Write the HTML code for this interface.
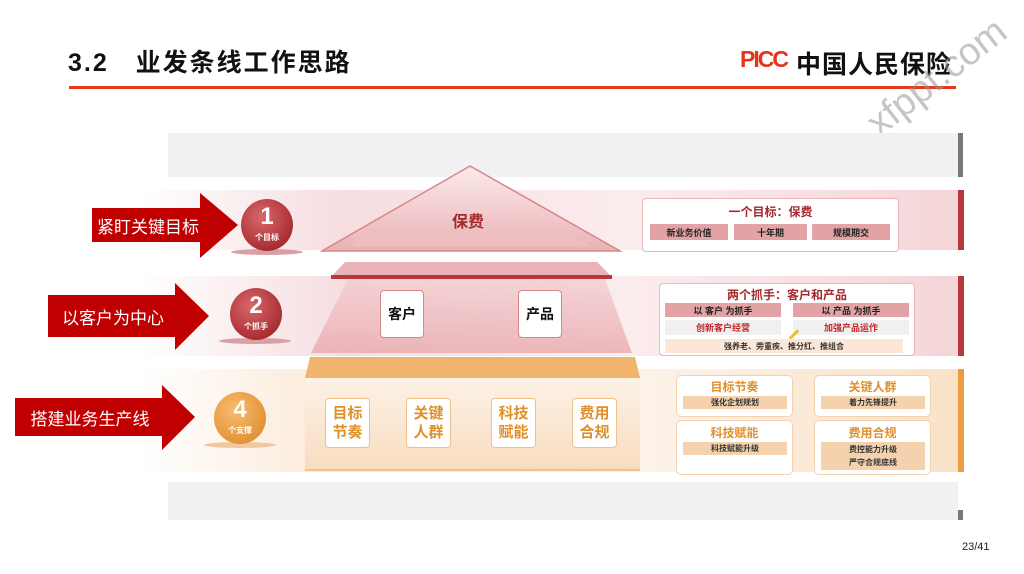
<!DOCTYPE html>
<html><head><meta charset="utf-8"><style>
*{margin:0;padding:0;box-sizing:border-box}
body{width:1024px;height:574px;background:#fff;position:relative;overflow:hidden;font-family:"Liberation Sans","Noto Sans CJK SC",sans-serif}
.a{position:absolute}
.c{display:flex;align-items:center;justify-content:center;text-align:center}
.t{font-weight:bold}
</style></head><body>
<div class="a t" style="left:68px;top:43px;font-size:25px;color:#111;letter-spacing:2px">3.2&nbsp;&nbsp;&nbsp;业发条线工作思路</div>
<div class="a" style="left:69px;top:86px;width:887px;height:3px;background:#e23a1a"></div>
<div class="a t" style="left:740px;top:46px;font-size:23px;color:#e2361c;letter-spacing:-2px;font-weight:900">PICC</div>
<div class="a t" style="left:796px;top:45px;font-size:25px;color:#111;letter-spacing:1px">中国人民保险</div>
<div class="a" style="left:872px;top:108px;font-size:38px;color:rgba(150,150,150,.55);transform:rotate(-38deg);transform-origin:left center;line-height:40px">xfppt.com</div>

<!-- bands -->
<div class="a" style="left:168px;top:133px;width:790px;height:44px;background:#f1f1f1"></div>
<div class="a" style="left:958px;top:133px;width:5px;height:44px;background:#777"></div>
<div class="a" style="left:140px;top:190px;width:818px;height:60px;background:linear-gradient(90deg,#fff,#f6dde0 25%,#fbecee 60%,#f4d5d8)"></div>
<div class="a" style="left:958px;top:190px;width:6px;height:60px;background:#b8373a"></div>
<div class="a" style="left:140px;top:276px;width:818px;height:80px;background:linear-gradient(90deg,#fff,#f6dde0 25%,#fbecee 60%,#f4d5d8)"></div>
<div class="a" style="left:958px;top:276px;width:6px;height:80px;background:#b8373a"></div>
<div class="a" style="left:140px;top:369px;width:818px;height:103px;background:linear-gradient(90deg,#fff,#fbe8d6 25%,#fdf3ea 60%,#f9e2c8)"></div>
<div class="a" style="left:958px;top:369px;width:6px;height:103px;background:#ec9b3e"></div>
<div class="a" style="left:168px;top:482px;width:790px;height:38px;background:#f1f1f1"></div>
<div class="a" style="left:958px;top:510px;width:5px;height:10px;background:#777"></div>

<svg class="a" style="left:0;top:0" width="1024" height="574">
<defs>
<linearGradient id="pk" x1="0" y1="0" x2="0" y2="1"><stop offset="0" stop-color="#f3cdd0"/><stop offset="1" stop-color="#e7a6aa"/></linearGradient>
<linearGradient id="pk2" x1="0" y1="0" x2="0" y2="1"><stop offset="0" stop-color="#fbeaeb"/><stop offset="1" stop-color="#eab2b5"/></linearGradient>
<linearGradient id="or" x1="0" y1="0" x2="0" y2="1"><stop offset="0" stop-color="#fdf2e6"/><stop offset="1" stop-color="#f8dcc0"/></linearGradient>
<radialGradient id="rc" cx=".4" cy=".35" r=".7"><stop offset="0" stop-color="#d9686b"/><stop offset="1" stop-color="#a3282c"/></radialGradient>
<radialGradient id="oc" cx=".4" cy=".35" r=".7"><stop offset="0" stop-color="#f6bd72"/><stop offset="1" stop-color="#e38e2f"/></radialGradient>
</defs>
<polygon points="92,208 200,208 200,193 238,225 200,258 200,242 92,242" fill="#c00000"/>
<polygon points="48,295 175,295 175,283 209,316 175,350 175,337 48,337" fill="#c00000"/>
<polygon points="15,398 162,398 162,385 195,417 162,450 162,436 15,436" fill="#c00000"/>
<ellipse cx="267" cy="252" rx="36" ry="3" fill="#d9a0a3"/>
<circle cx="267" cy="225" r="26" fill="url(#rc)"/>
<ellipse cx="255" cy="341" rx="36" ry="3" fill="#d9a0a3"/>
<circle cx="256" cy="314" r="26" fill="url(#rc)"/>
<ellipse cx="240" cy="445" rx="36" ry="3" fill="#f0c8a0"/>
<circle cx="240" cy="418" r="26" fill="url(#oc)"/>
<polygon points="470,166 322,251 620,251" fill="url(#pk2)" stroke="#d7868a" stroke-width="1.5"/>
<polygon points="370,235 570,235 590,246 350,246" fill="#efc2c5" opacity=".7"/>
<polygon points="345,262 597,262 612,277 331,277" fill="#e9b2b5"/>
<polygon points="331,275 612,275 612,279 331,279" fill="#b8373a"/>
<polygon points="348,279 605,279 632,353 311,353" fill="url(#pk)" opacity=".75"/>
<polygon points="310,357 635,357 640,378 305,378" fill="#f0b46c"/>
<polygon points="305,378 640,378 640,470 305,470" fill="url(#or)"/>
<line x1="305" y1="470" x2="640" y2="470" stroke="#f0b46c" stroke-width="1.5"/>
</svg>
<div class="a c t" style="left:241px;top:204px;width:52px;font-size:24px;color:#fff;line-height:26px">1</div>
<div class="a c t" style="left:241px;top:232px;width:52px;font-size:8px;color:#fff">个目标</div>
<div class="a c t" style="left:230px;top:293px;width:52px;font-size:24px;color:#fff;line-height:26px">2</div>
<div class="a c t" style="left:230px;top:321px;width:52px;font-size:8px;color:#fff">个抓手</div>
<div class="a c t" style="left:214px;top:397px;width:52px;font-size:24px;color:#fff;line-height:26px">4</div>
<div class="a c t" style="left:214px;top:425px;width:52px;font-size:8px;color:#fff">个支撑</div>
<div class="a c" style="left:92px;top:208px;width:112px;height:34px;font-size:17px;color:#fff">紧盯关键目标</div>
<div class="a c" style="left:48px;top:295px;width:130px;height:42px;font-size:17px;color:#fff">以客户为中心</div>
<div class="a c" style="left:15px;top:398px;width:150px;height:38px;font-size:17px;color:#fff">搭建业务生产线</div>

<div class="a c t" style="left:438px;top:208px;width:60px;font-size:16px;color:#a5282c">保费</div>
<div class="a c t" style="left:380px;top:290px;width:44px;height:48px;background:#fff;border:1.5px solid #d48a8d;border-radius:4px;font-size:14px;color:#111">客户</div>
<div class="a c t" style="left:518px;top:290px;width:44px;height:48px;background:#fff;border:1.5px solid #d48a8d;border-radius:4px;font-size:14px;color:#111">产品</div>
<div class="a c t" style="left:325px;top:398px;width:45px;height:50px;background:#fff;border:1.5px solid #f0c08a;border-radius:4px;font-size:15px;line-height:19px;color:#e0902a">目标<br>节奏</div>
<div class="a c t" style="left:406px;top:398px;width:45px;height:50px;background:#fff;border:1.5px solid #f0c08a;border-radius:4px;font-size:15px;line-height:19px;color:#e0902a">关键<br>人群</div>
<div class="a c t" style="left:491px;top:398px;width:45px;height:50px;background:#fff;border:1.5px solid #f0c08a;border-radius:4px;font-size:15px;line-height:19px;color:#e0902a">科技<br>赋能</div>
<div class="a c t" style="left:572px;top:398px;width:45px;height:50px;background:#fff;border:1.5px solid #f0c08a;border-radius:4px;font-size:15px;line-height:19px;color:#e0902a">费用<br>合规</div>

<div class="a" style="left:642px;top:198px;width:257px;height:54px;background:#fff;border:1px solid #eab8ba;border-radius:4px"></div>
<div class="a c t" style="left:642px;top:203px;width:257px;font-size:12px;color:#a5282c">一个目标：保费</div>
<div class="a c t" style="left:650px;top:224px;width:78px;height:16px;background:#e3a3a6;font-size:9px;color:#222">新业务价值</div>
<div class="a c t" style="left:734px;top:224px;width:73px;height:16px;background:#e3a3a6;font-size:9px;color:#222">十年期</div>
<div class="a c t" style="left:812px;top:224px;width:78px;height:16px;background:#e3a3a6;font-size:9px;color:#222">规模期交</div>
<div class="a" style="left:659px;top:283px;width:256px;height:73px;background:#fff;border:1px solid #eab8ba;border-radius:4px"></div>
<div class="a c t" style="left:659px;top:286px;width:256px;font-size:12px;color:#a5282c">两个抓手：客户和产品</div>
<div class="a c t" style="left:665px;top:303px;width:116px;height:14px;background:#e3a3a6;font-size:9px;color:#222">以 客户 为抓手</div>
<div class="a c t" style="left:793px;top:303px;width:116px;height:14px;background:#e3a3a6;font-size:9px;color:#222">以 产品 为抓手</div>
<div class="a c t" style="left:665px;top:320px;width:116px;height:15px;background:#f0f0f0;font-size:9px;color:#c0262b">创新客户经营</div>
<div class="a c t" style="left:793px;top:320px;width:116px;height:15px;background:#f0f0f0;font-size:9px;color:#c0262b">加强产品运作</div>
<div class="a" style="left:788px;top:333px;width:12px;height:3px;background:#f0c020;transform:rotate(-45deg)"></div>
<div class="a c t" style="left:665px;top:339px;width:238px;height:14px;background:#fbe6d8;font-size:8px;color:#333">强养老、旁重疾、推分红、推组合</div>
<div class="a" style="left:676px;top:375px;width:117px;height:42px;background:#fff;border:1px solid #f3d2b0;border-radius:5px"></div>
<div class="a c t" style="left:676px;top:378px;width:117px;font-size:12px;color:#e0902a">目标节奏</div>
<div class="a c t" style="left:683px;top:396px;width:104px;height:13px;background:#f4d2ad;font-size:8px;color:#333">强化企划规划</div>
<div class="a" style="left:814px;top:375px;width:117px;height:42px;background:#fff;border:1px solid #f3d2b0;border-radius:5px"></div>
<div class="a c t" style="left:814px;top:378px;width:117px;font-size:12px;color:#e0902a">关键人群</div>
<div class="a c t" style="left:821px;top:396px;width:104px;height:13px;background:#f4d2ad;font-size:8px;color:#333">着力先锋提升</div>
<div class="a" style="left:676px;top:420px;width:117px;height:55px;background:#fff;border:1px solid #f3d2b0;border-radius:5px"></div>
<div class="a c t" style="left:676px;top:424px;width:117px;font-size:12px;color:#e0902a">科技赋能</div>
<div class="a c t" style="left:683px;top:442px;width:104px;height:13px;background:#f4d2ad;font-size:8px;color:#333">科技赋能升级</div>
<div class="a" style="left:814px;top:420px;width:117px;height:55px;background:#fff;border:1px solid #f3d2b0;border-radius:5px"></div>
<div class="a c t" style="left:814px;top:424px;width:117px;font-size:12px;color:#e0902a">费用合规</div>
<div class="a c t" style="left:821px;top:442px;width:104px;height:28px;background:#f4d2ad;font-size:8px;line-height:13px;color:#333">费控能力升级<br>严守合规底线</div>

<div class="a" style="left:962px;top:541px;font-size:11px;color:#222">23/41</div>
</body></html>
